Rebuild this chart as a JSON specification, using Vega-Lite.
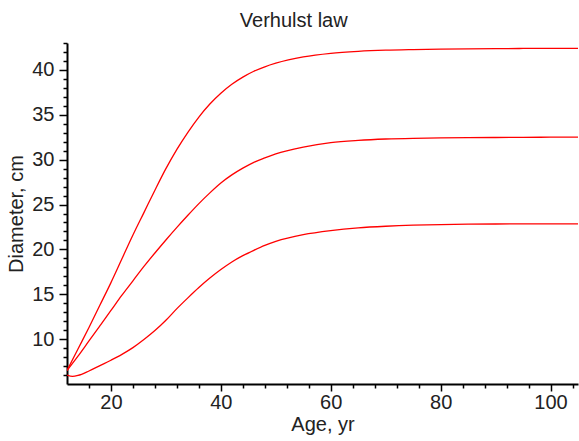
{
  "$schema": "https://vega.github.io/schema/vega-lite/v6.json",
  "width": 511,
  "height": 341,
  "autosize": {"type": "none"},
  "padding": {"left": 67, "top": 43, "right": 1, "bottom": 57},
  "background": "white",
  "config": {
    "view": {"stroke": null},
    "font": "Liberation Sans",
    "axis": {
      "grid": false,
      "domainColor": "#000000",
      "domainWidth": 2,
      "tickColor": "#000000",
      "tickWidth": 1.5,
      "labelFont": "Liberation Sans",
      "labelFontSize": 20,
      "labelColor": "#222222",
      "titleFont": "Liberation Sans",
      "titleFontSize": 20,
      "titleFontWeight": "normal",
      "titleColor": "#222222"
    }
  },
  "title": {
    "text": "Verhulst law",
    "frame": "bounds",
    "anchor": "middle",
    "font": "Liberation Sans",
    "fontSize": 20,
    "fontWeight": "normal",
    "color": "#222222",
    "baseline": "alphabetic",
    "offset": 15,
    "dy": 20
  },
  "data": {
    "values": [
      {"curve": "upper", "age": 12, "diameter": 6.5},
      {"curve": "upper", "age": 14, "diameter": 8.9},
      {"curve": "upper", "age": 16, "diameter": 11.3},
      {"curve": "upper", "age": 18, "diameter": 13.8},
      {"curve": "upper", "age": 20, "diameter": 16.3},
      {"curve": "upper", "age": 22, "diameter": 18.95},
      {"curve": "upper", "age": 24, "diameter": 21.6},
      {"curve": "upper", "age": 26, "diameter": 24.1},
      {"curve": "upper", "age": 28, "diameter": 26.6},
      {"curve": "upper", "age": 30, "diameter": 29.0},
      {"curve": "upper", "age": 32, "diameter": 31.15},
      {"curve": "upper", "age": 34, "diameter": 33.05},
      {"curve": "upper", "age": 36, "diameter": 34.75},
      {"curve": "upper", "age": 38, "diameter": 36.2},
      {"curve": "upper", "age": 40, "diameter": 37.4},
      {"curve": "upper", "age": 42, "diameter": 38.4},
      {"curve": "upper", "age": 44, "diameter": 39.2},
      {"curve": "upper", "age": 46, "diameter": 39.85},
      {"curve": "upper", "age": 48, "diameter": 40.35},
      {"curve": "upper", "age": 50, "diameter": 40.75},
      {"curve": "upper", "age": 55, "diameter": 41.45},
      {"curve": "upper", "age": 60, "diameter": 41.85},
      {"curve": "upper", "age": 65, "diameter": 42.07},
      {"curve": "upper", "age": 70, "diameter": 42.2},
      {"curve": "upper", "age": 75, "diameter": 42.27},
      {"curve": "upper", "age": 80, "diameter": 42.32},
      {"curve": "upper", "age": 85, "diameter": 42.35},
      {"curve": "upper", "age": 90, "diameter": 42.37},
      {"curve": "upper", "age": 95, "diameter": 42.39},
      {"curve": "upper", "age": 100, "diameter": 42.4},
      {"curve": "upper", "age": 105, "diameter": 42.4},

      {"curve": "middle", "age": 12, "diameter": 6.5},
      {"curve": "middle", "age": 14, "diameter": 8.1},
      {"curve": "middle", "age": 16, "diameter": 9.8},
      {"curve": "middle", "age": 18, "diameter": 11.5},
      {"curve": "middle", "age": 20, "diameter": 13.2},
      {"curve": "middle", "age": 22, "diameter": 14.9},
      {"curve": "middle", "age": 24, "diameter": 16.5},
      {"curve": "middle", "age": 26, "diameter": 18.1},
      {"curve": "middle", "age": 28, "diameter": 19.6},
      {"curve": "middle", "age": 30, "diameter": 21.05},
      {"curve": "middle", "age": 32, "diameter": 22.45},
      {"curve": "middle", "age": 34, "diameter": 23.8},
      {"curve": "middle", "age": 36, "diameter": 25.1},
      {"curve": "middle", "age": 38, "diameter": 26.3},
      {"curve": "middle", "age": 40, "diameter": 27.4},
      {"curve": "middle", "age": 42, "diameter": 28.3},
      {"curve": "middle", "age": 44, "diameter": 29.05},
      {"curve": "middle", "age": 46, "diameter": 29.7},
      {"curve": "middle", "age": 48, "diameter": 30.2},
      {"curve": "middle", "age": 50, "diameter": 30.65},
      {"curve": "middle", "age": 55, "diameter": 31.4},
      {"curve": "middle", "age": 60, "diameter": 31.9},
      {"curve": "middle", "age": 65, "diameter": 32.15},
      {"curve": "middle", "age": 70, "diameter": 32.3},
      {"curve": "middle", "age": 75, "diameter": 32.38},
      {"curve": "middle", "age": 80, "diameter": 32.42},
      {"curve": "middle", "age": 85, "diameter": 32.45},
      {"curve": "middle", "age": 90, "diameter": 32.47},
      {"curve": "middle", "age": 95, "diameter": 32.48},
      {"curve": "middle", "age": 100, "diameter": 32.5},
      {"curve": "middle", "age": 105, "diameter": 32.5},

      {"curve": "lower", "age": 12, "diameter": 6.0},
      {"curve": "lower", "age": 13, "diameter": 5.85},
      {"curve": "lower", "age": 14, "diameter": 5.95},
      {"curve": "lower", "age": 16, "diameter": 6.45},
      {"curve": "lower", "age": 18, "diameter": 7.05},
      {"curve": "lower", "age": 20, "diameter": 7.65},
      {"curve": "lower", "age": 22, "diameter": 8.3},
      {"curve": "lower", "age": 24, "diameter": 9.05},
      {"curve": "lower", "age": 26, "diameter": 9.95},
      {"curve": "lower", "age": 28, "diameter": 10.95},
      {"curve": "lower", "age": 30, "diameter": 12.1},
      {"curve": "lower", "age": 32, "diameter": 13.4},
      {"curve": "lower", "age": 34, "diameter": 14.6},
      {"curve": "lower", "age": 36, "diameter": 15.75},
      {"curve": "lower", "age": 38, "diameter": 16.8},
      {"curve": "lower", "age": 40, "diameter": 17.75},
      {"curve": "lower", "age": 42, "diameter": 18.6},
      {"curve": "lower", "age": 44, "diameter": 19.3},
      {"curve": "lower", "age": 46, "diameter": 19.9},
      {"curve": "lower", "age": 48, "diameter": 20.45},
      {"curve": "lower", "age": 50, "diameter": 20.9},
      {"curve": "lower", "age": 55, "diameter": 21.65},
      {"curve": "lower", "age": 60, "diameter": 22.1},
      {"curve": "lower", "age": 65, "diameter": 22.4},
      {"curve": "lower", "age": 70, "diameter": 22.58},
      {"curve": "lower", "age": 75, "diameter": 22.7},
      {"curve": "lower", "age": 80, "diameter": 22.77},
      {"curve": "lower", "age": 85, "diameter": 22.81},
      {"curve": "lower", "age": 90, "diameter": 22.83},
      {"curve": "lower", "age": 95, "diameter": 22.85},
      {"curve": "lower", "age": 100, "diameter": 22.85},
      {"curve": "lower", "age": 105, "diameter": 22.85}
    ]
  },
  "layer": [
    {
      "mark": {"type": "line", "color": "#ff0000", "strokeWidth": 1.3, "interpolate": "monotone", "clip": true},
      "encoding": {
        "x": {
          "field": "age",
          "type": "quantitative",
          "scale": {"domain": [12, 105], "nice": false, "zero": false},
          "axis": {
            "orient": "bottom",
            "values": [20, 40, 60, 80, 100],
            "tickSize": 7,
            "labelPadding": 1,
            "title": "Age, yr",
            "titlePadding": 2
          }
        },
        "y": {
          "field": "diameter",
          "type": "quantitative",
          "scale": {"domain": [5, 43], "nice": false, "zero": false},
          "axis": {
            "orient": "left",
            "values": [10, 15, 20, 25, 30, 35, 40],
            "tickSize": 8,
            "labelPadding": 5,
            "title": "Diameter, cm",
            "titlePadding": 5
          }
        },
        "detail": {"field": "curve", "type": "nominal"}
      }
    },
    {
      "mark": {"type": "point", "opacity": 0},
      "encoding": {
        "x": {
          "field": "age",
          "type": "quantitative",
          "scale": {"domain": [12, 105], "nice": false, "zero": false},
          "axis": {
            "orient": "bottom",
            "values": [16, 24, 28, 32, 36, 44, 48, 52, 56, 64, 68, 72, 76, 84, 88, 92, 96, 104],
            "tickSize": 4,
            "labels": false,
            "domain": false,
            "title": null
          }
        },
        "y": {
          "field": "diameter",
          "type": "quantitative",
          "scale": {"domain": [5, 43], "nice": false, "zero": false},
          "axis": {
            "orient": "left",
            "values": [6, 7, 8, 9, 11, 12, 13, 14, 16, 17, 18, 19, 21, 22, 23, 24, 26, 27, 28, 29, 31, 32, 33, 34, 36, 37, 38, 39, 41, 42, 43],
            "tickSize": 4,
            "labels": false,
            "domain": false,
            "title": null
          }
        }
      }
    }
  ],
  "resolve": {"axis": {"x": "independent", "y": "independent"}}
}
